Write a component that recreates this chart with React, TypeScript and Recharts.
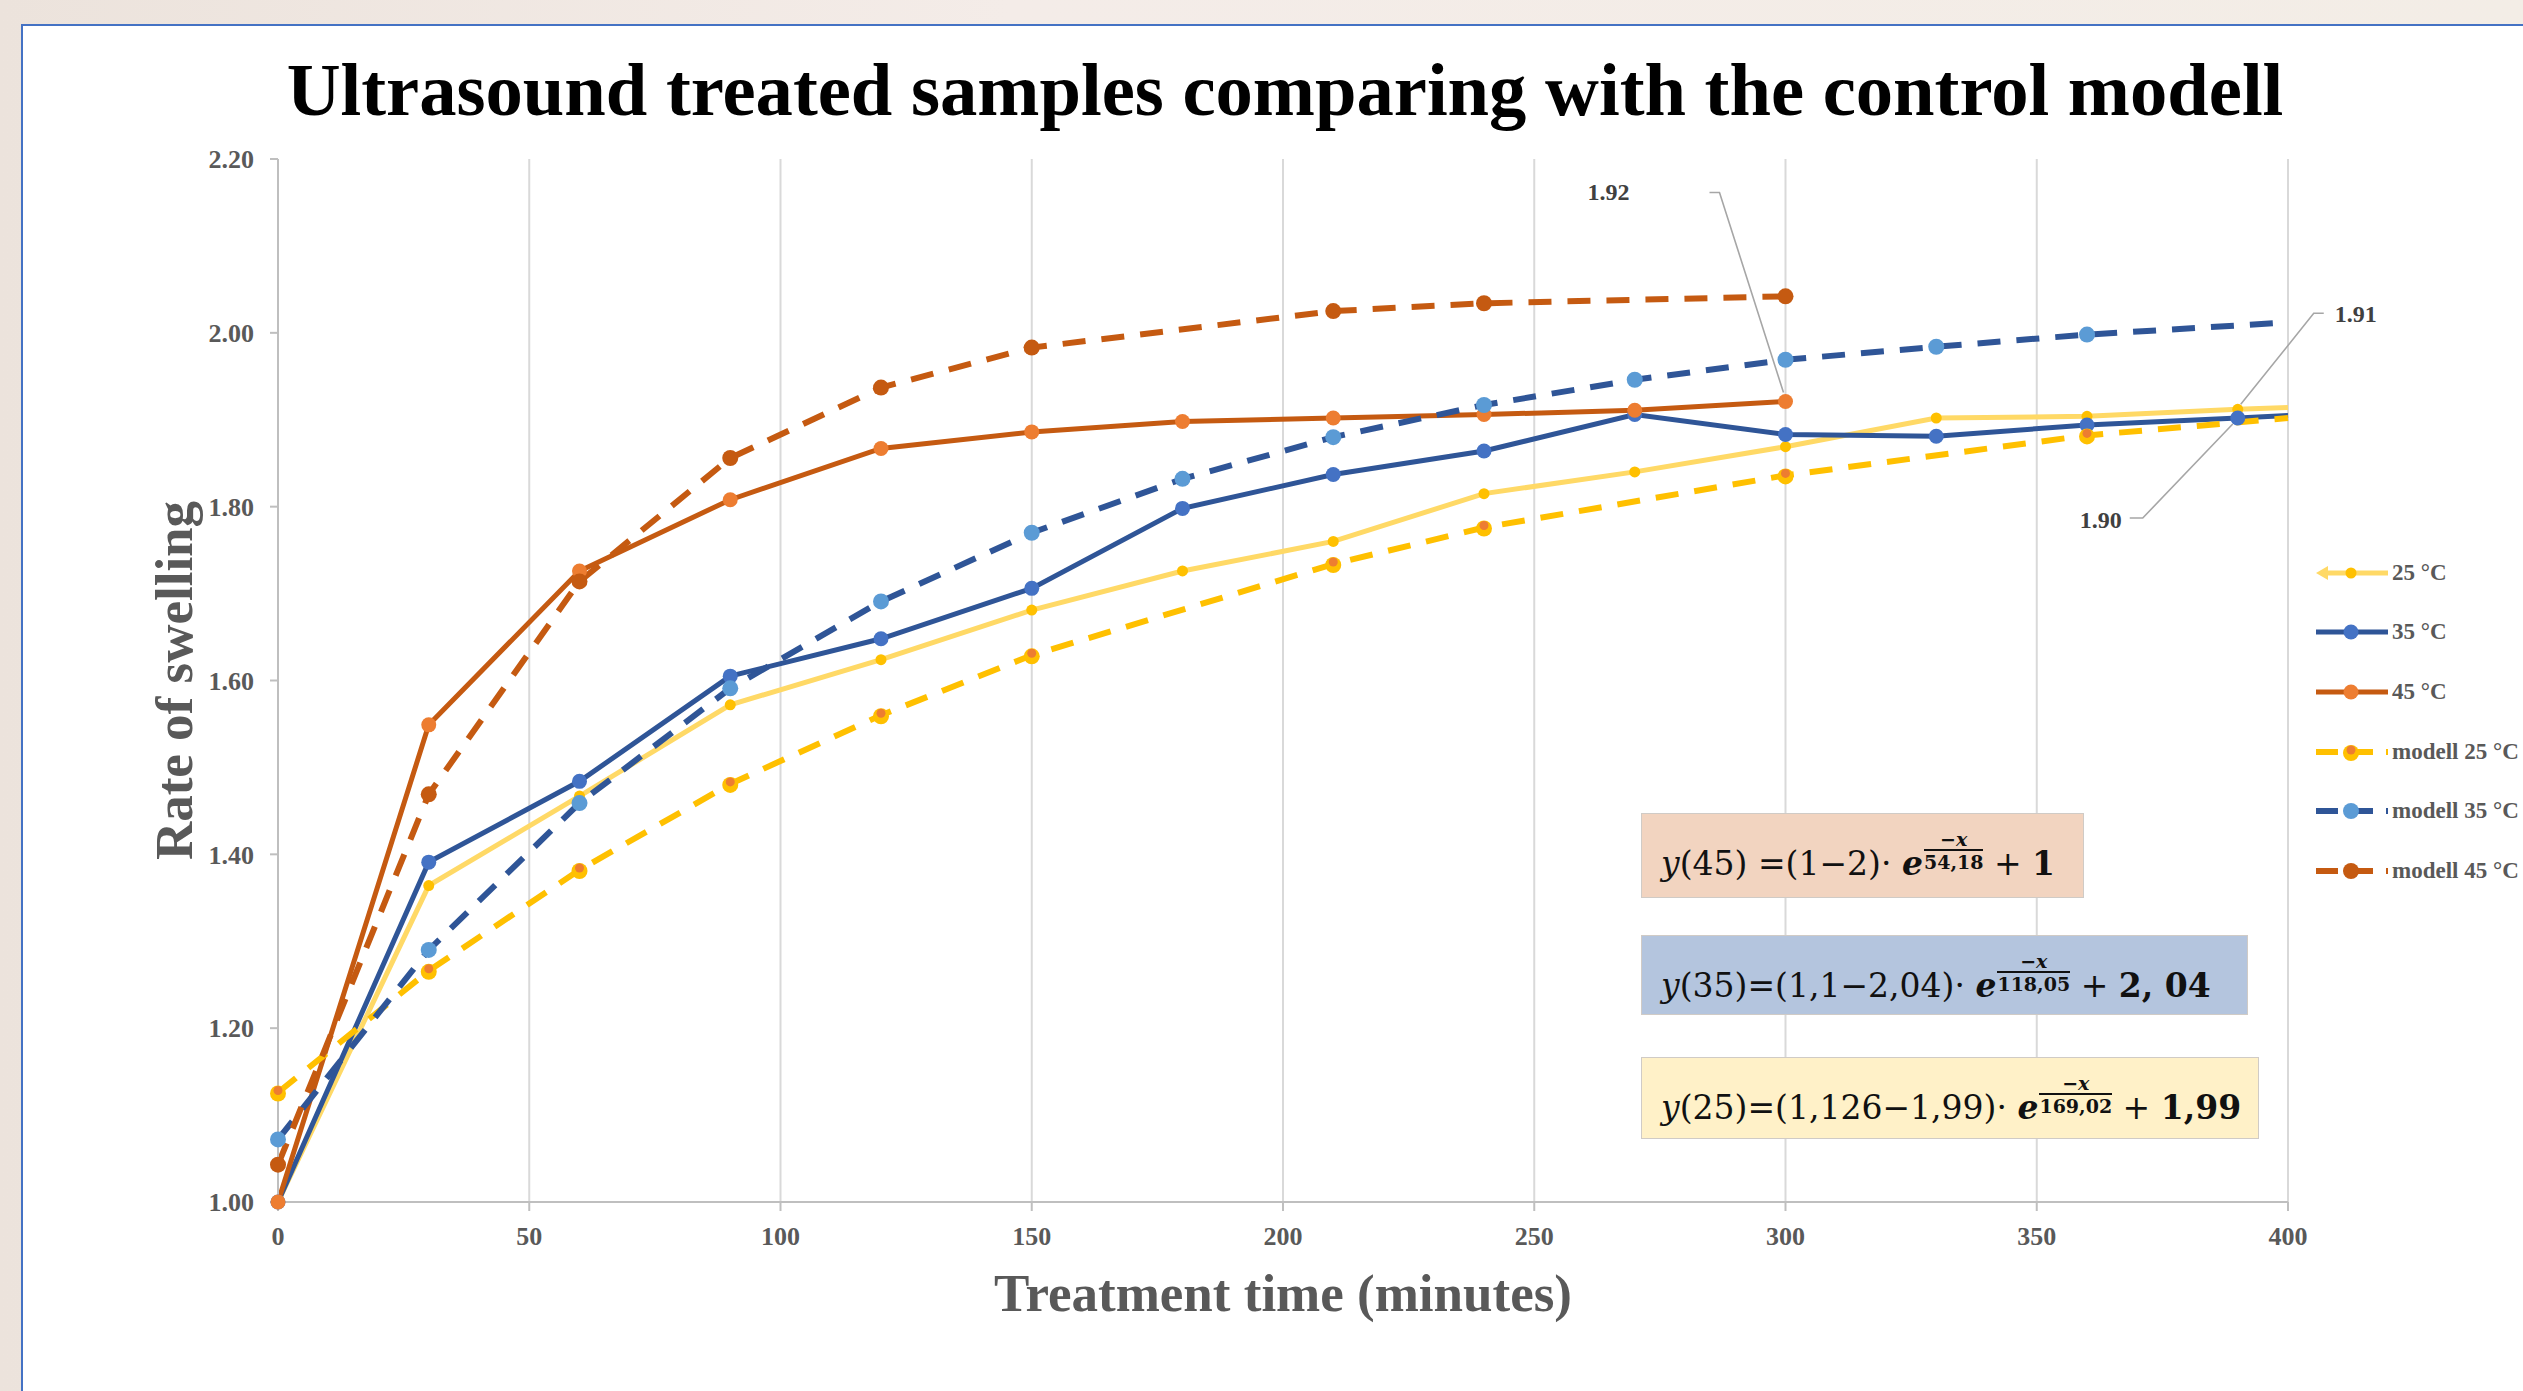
import React from "react";
import { LineChart, Line, XAxis, YAxis, CartesianGrid, Legend } from "recharts";

// minutes of treatment; 400 is only where the lines run into the right edge
const times = [0, 30, 60, 90, 120, 150, 180, 210, 240, 270, 300, 330, 360, 390, 400];

// measured swelling
const exp25 = [1.0, 1.364, 1.467, 1.572, 1.624, 1.681, 1.726, 1.76, 1.815, 1.84, 1.869, 1.902, 1.904, 1.912, 1.914];
const exp35 = [1.0, 1.391, 1.484, 1.605, 1.648, 1.706, 1.798, 1.837, 1.864, 1.906, 1.883, 1.881, 1.894, 1.902, 1.905];
const exp45 = [1.0, 1.549, 1.726, 1.808, 1.867, 1.886, 1.898, 1.902, 1.906, 1.911, 1.921, null, null, null, null];

// model curves
const model25 = [1.126, 1.266, 1.382, 1.481, 1.56, 1.629, null, 1.734, 1.776, null, 1.836, null, 1.882, null, 1.902];
const model35 = [1.072, 1.29, 1.459, 1.591, 1.691, 1.77, 1.832, 1.88, 1.917, 1.946, 1.969, 1.984, 1.998, null, 2.012];
const model45 = [1.043, 1.469, 1.714, 1.856, 1.937, 1.983, null, 2.025, 2.034, null, 2.042, null, null, null, null];

const xTicks = [0, 50, 100, 150, 200, 250, 300, 350, 400];
const yTicks = [1.0, 1.2, 1.4, 1.6, 1.8, 2.0, 2.2];

const FONT = '"Liberation Serif", "Times New Roman", serif';
const MATH_FONT = '"DejaVu Serif", "Liberation Serif", serif';
const GRAY = "#595959";

type Kind = "gold" | "blue" | "orange" | "mYellow" | "mBlue" | "mOrange";

const series = [
  { key: "exp25", name: "25 °C", values: exp25, color: "#FFD966", width: 5, dashed: false, marker: "gold" as Kind },
  { key: "exp35", name: "35 °C", values: exp35, color: "#2F5597", width: 5, dashed: false, marker: "blue" as Kind },
  { key: "exp45", name: "45 °C", values: exp45, color: "#C55A11", width: 5, dashed: false, marker: "orange" as Kind },
  { key: "model25", name: "modell 25 °C", values: model25, color: "#FFC000", width: 6, dashed: true, marker: "mYellow" as Kind },
  { key: "model35", name: "modell 35 °C", values: model35, color: "#2F5597", width: 6, dashed: true, marker: "mBlue" as Kind },
  { key: "model45", name: "modell 45 °C", values: model45, color: "#C55A11", width: 6, dashed: true, marker: "mOrange" as Kind },
];

const rows = times.map((t, i) => {
  const row: Record<string, number | null> = { t };
  series.forEach((s) => (row[s.key] = s.values[i]));
  return row;
});

function Marker({ kind, cx, cy }: { kind: Kind; cx: number; cy: number }) {
  if (kind === "gold") return <circle cx={cx} cy={cy} r={5.5} fill="#FFC000" />;
  if (kind === "blue") return <circle cx={cx} cy={cy} r={7.5} fill="#4472C4" />;
  if (kind === "orange") return <circle cx={cx} cy={cy} r={7.5} fill="#ED7D31" />;
  if (kind === "mBlue") return <circle cx={cx} cy={cy} r={8} fill="#5B9BD5" />;
  if (kind === "mOrange") return <circle cx={cx} cy={cy} r={8} fill="#C55A11" />;
  return (
    <g>
      <circle cx={cx} cy={cy + 1} r={8} fill="#FFC000" />
      <circle cx={cx} cy={cy - 2} r={4.5} fill="#ED7D31" />
    </g>
  );
}

const dotFor = (key: string, kind: Kind) => (p: any) => {
  const v = p.payload ? p.payload[key] : null;
  if (v == null || p.payload.t === 400 || p.cx == null || p.cy == null) return <g key={`n${p.index}`} />;
  return (
    <g key={`d${p.index}`}>
      <Marker kind={kind} cx={p.cx} cy={p.cy} />
    </g>
  );
};

// data label with a leader line, hung on one point of a series
const callout =
  (t: number, text: string, tx: number, ty: number, anchor: string, path: number[][]) => (p: any) => {
    if (p.index !== times.indexOf(t) || p.x == null) return <g key={`l${p.index}`} />;
    const pts = path.map(([dx, dy]) => `${p.x + dx},${p.y + dy}`).join(" ");
    return (
      <g key={`l${p.index}`}>
        <polyline points={pts} fill="none" stroke="#A6A6A6" strokeWidth={1.6} />
        <text x={p.x + tx} y={p.y + ty} textAnchor={anchor} fontFamily={FONT} fontSize={24} fontWeight={700} fill="#404040">
          {text}
        </text>
      </g>
    );
  };

const labels: Record<string, any> = {
  exp45: callout(300, "1.92", -177, -201, "middle", [[-76, -209], [-66, -209], [-2, -9]]),
  exp35: callout(390, "1.90", -137, 110, "middle", [[-108, 100], [-95, 100], [-5, 6]]),
  exp25: callout(390, "1.91", 97, -87, "start", [[86, -96], [76, -96], [3, -5]]),
};

const renderLegend = () => (
  <div style={{ fontFamily: FONT }}>
    {series.map((s) => (
      <div key={s.key} style={{ display: "flex", alignItems: "center", height: 59.6 }}>
        <svg width={72} height={24} style={{ flex: "none" }}>
          {s.key === "exp25" && <polygon points="0,12 12,5 12,19" fill={s.color} />}
          <line
            x1={s.key === "exp25" ? 8 : 0}
            y1={12}
            x2={72}
            y2={12}
            stroke={s.color}
            strokeWidth={s.width}
            strokeDasharray={s.dashed ? "22 13" : undefined}
          />
          <Marker kind={s.marker} cx={35} cy={12} />
        </svg>
        <span style={{ marginLeft: 4, fontSize: 23, fontWeight: 700, color: GRAY, whiteSpace: "nowrap" }}>{s.name}</span>
      </div>
    ))}
  </div>
);

const Frac = ({ den }: { den: string }) => (
  <span
    style={{
      position: "relative",
      display: "inline-block",
      fontSize: 19,
      fontWeight: 700,
      lineHeight: "20px",
      borderTop: "2px solid #111",
      paddingTop: 1,
      verticalAlign: 6,
      marginLeft: 1,
    }}
  >
    {den}
    <span
      style={{ position: "absolute", left: 0, right: 0, bottom: "100%", marginBottom: 2, textAlign: "center", fontStyle: "italic" }}
    >
      −x
    </span>
  </span>
);

function EqBox(props: { left: number; top: number; width: number; height: number; bg: string; temp: string; mid: string; den: string; tail: string }) {
  return (
    <div
      style={{
        position: "absolute",
        left: props.left,
        top: props.top,
        width: props.width,
        height: props.height,
        background: props.bg,
        border: "1px solid #D0CBC6",
        boxSizing: "border-box",
        fontFamily: MATH_FONT,
        color: "#111",
      }}
    >
      <div style={{ position: "absolute", left: 19, top: 33, fontSize: 33, lineHeight: "34px", whiteSpace: "nowrap" }}>
        <i>y</i>({props.temp}){props.mid}·{" "}
        <b>
          <i>e</i>
        </b>
        <Frac den={props.den} /> + <b>{props.tail}</b>
      </div>
    </div>
  );
}

export default function App() {
  return (
    <div
      style={{
        position: "fixed",
        left: 0,
        top: 0,
        width: 2523,
        height: 1391,
        overflow: "hidden",
        background: "linear-gradient(90deg, #ECE3DC 0%, #F4ECE8 40%, #F3EDE6 100%)",
      }}
    >
      <div
        style={{
          position: "absolute",
          left: 21,
          top: 24,
          width: 2600,
          height: 1500,
          background: "#fff",
          border: "2px solid #4472C4",
        }}
      />
      <svg width={2523} height={140} style={{ position: "absolute", left: 0, top: 0 }}>
        <text x={1285} y={115} textAnchor="middle" fontFamily={FONT} fontSize={74.6} fontWeight={700} fill="#000">
          Ultrasound treated samples comparing with the control modell
        </text>
      </svg>
      <div style={{ position: "absolute", left: 0, top: 0 }}>
        <LineChart width={2523} height={1391} data={rows} margin={{ top: 159, right: 235, left: 138, bottom: 79 }}>
          <CartesianGrid horizontal={false} stroke="#D9D9D9" strokeWidth={2} />
          <XAxis
            dataKey="t"
            type="number"
            domain={[0, 400]}
            ticks={xTicks}
            height={110}
            stroke="#BFBFBF"
            strokeWidth={2}
            tickSize={9}
            tickMargin={16}
            tick={{ fontFamily: FONT, fontSize: 26, fontWeight: 700, fill: GRAY }}
            label={(p: any) => {
              const vb = p.viewBox;
              return (
                <text x={vb.x + vb.width / 2} y={vb.y + 109} textAnchor="middle" fontFamily={FONT} fontSize={53} fontWeight={700} fill={GRAY}>
                  Treatment time (minutes)
                </text>
              );
            }}
          />
          <YAxis
            type="number"
            domain={[1, 2.2]}
            ticks={yTicks}
            width={140}
            stroke="#BFBFBF"
            strokeWidth={2}
            tickSize={8}
            tickMargin={16}
            tickFormatter={(v: number) => v.toFixed(2)}
            tick={{ fontFamily: FONT, fontSize: 26, fontWeight: 700, fill: GRAY }}
            label={(p: any) => {
              const vb = p.viewBox;
              const cx = vb.x + 36;
              const cy = vb.y + vb.height / 2;
              return (
                <text
                  x={cx}
                  y={cy}
                  transform={`rotate(-90 ${cx} ${cy})`}
                  textAnchor="middle"
                  dominantBaseline="central"
                  fontFamily={FONT}
                  fontSize={53}
                  fontWeight={700}
                  fill={GRAY}
                >
                  Rate of swelling
                </text>
              );
            }}
          />
          <Legend
            layout="vertical"
            align="center"
            verticalAlign="middle"
            wrapperStyle={{ left: 2316, top: 543, width: 205 }}
            content={renderLegend}
          />
          {series.map((s) => (
            <Line
              key={s.key}
              type="linear"
              dataKey={s.key}
              name={s.name}
              stroke={s.color}
              strokeWidth={s.width}
              strokeDasharray={s.dashed ? "23 16" : undefined}
              connectNulls
              dot={dotFor(s.key, s.marker)}
              activeDot={false}
              label={labels[s.key]}
              isAnimationActive={false}
            />
          ))}
        </LineChart>
      </div>
      <EqBox left={1641} top={813} width={443} height={85} bg="#F2D4C0" temp="45" mid=" =(1−2)" den="54,18" tail="1" />
      <EqBox left={1641} top={935} width={607} height={80} bg="#B4C5DE" temp="35" mid="=(1,1−2,04)" den="118,05" tail="2, 04" />
      <EqBox left={1641} top={1057} width={618} height={82} bg="#FFF1C8" temp="25" mid="=(1,126−1,99)" den="169,02" tail="1,99" />
    </div>
  );
}
